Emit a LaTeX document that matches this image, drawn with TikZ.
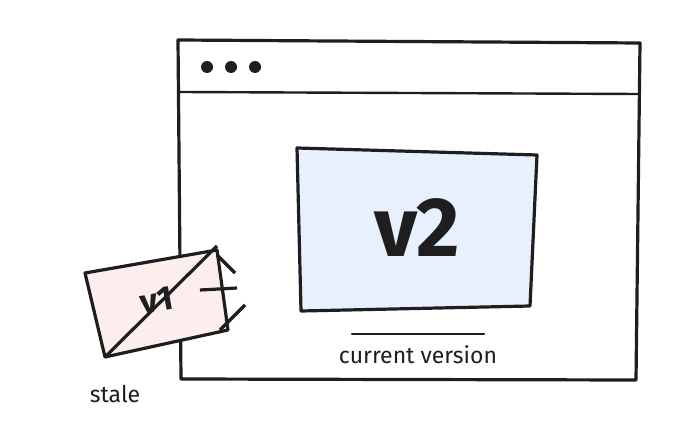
\documentclass[tikz,border=0pt]{standalone}
\usepackage{fontspec}
\setmainfont{Fira Sans}
\usetikzlibrary{positioning}
\definecolor{ink}{HTML}{1E1E1E}
\definecolor{newfill}{HTML}{E8F0FD}
\definecolor{oldfill}{HTML}{FDEEEE}

\begin{document}
\begin{tikzpicture}[x=1pt,y=-1pt,
  frame/.style={draw=ink,line width=3.2pt,line join=round},
  thin/.style={draw=ink,line width=2.4pt,line cap=round},
  dot/.style={circle,fill=ink,minimum size=12pt,inner sep=0pt},
  label/.style={text=ink,font=\fontsize{23}{26}\selectfont}]
\useasboundingbox (0,0) rectangle (690,430);

% browser window
\draw[frame] (178,40) -- (640,43) -- (636,380) -- (181,379) -- cycle;
\draw[thin] (180,92) -- (638,94);
\foreach \i/\x in {1/207,2/231,3/255}{\node[dot] (dot\i) at (\x,67) {};}

% current page
\draw[frame,fill=newfill] (297,148) -- (537,155) -- (530,306) -- (301,311) -- cycle;
\node[text=ink,font=\fontsize{84}{84}\selectfont\bfseries] (v2) at (417,228) {v2};
\coordinate (ul1) at (352,334);
\coordinate (ul2) at (484,334);
\draw[thin] (ul1) -- (ul2);
\node[label] (cur) at (418,355) {current version};

% stale copy
\coordinate (c1) at (85,273);
\coordinate (c2) at (217,250);
\coordinate (c3) at (228,330);
\coordinate (c4) at (105,357);
\draw[frame,fill=oldfill] (c1) -- (c2) -- (c3) -- (c4) -- cycle;
\node[rotate=10,text=ink,font=\fontsize{34}{34}\selectfont\bfseries] (v1) at (157,300) {v1};
\coordinate (cross) at (217,246);
\draw[frame] (c4) -- (cross);
\draw[frame] (217,255) -- (235,273);
\draw[frame] (200,290) -- (237,288);
\draw[frame] (245,305) -- (220,330);
\node[label] (stale) at (115,394) {stale};
\end{tikzpicture}
\end{document}
